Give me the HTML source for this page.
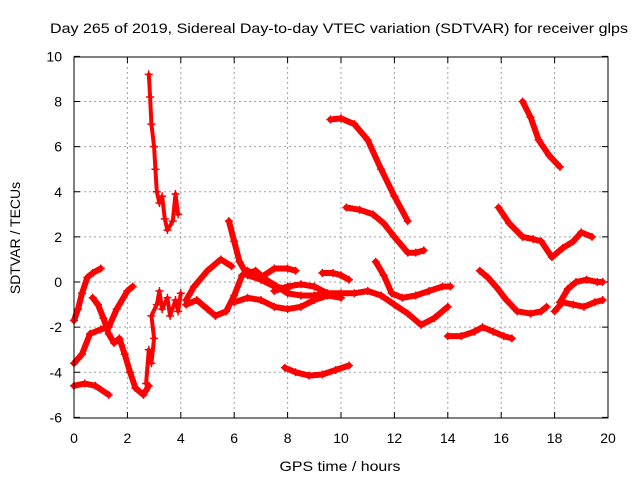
<!DOCTYPE html>
<html><head><meta charset="utf-8"><style>
body{margin:0;background:#fff}
svg{font-family:"Liberation Sans",sans-serif;display:block}
</style></head><body>
<svg id="c" width="640" height="480">
<rect width="640" height="480" fill="#fff"/>
<text x="339" y="33" font-size="14" textLength="578" lengthAdjust="spacingAndGlyphs" text-anchor="middle">Day 265 of 2019, Sidereal Day-to-day VTEC variation (SDTVAR) for receiver glps</text>
<text x="340" y="471" font-size="14" textLength="121" lengthAdjust="spacingAndGlyphs" text-anchor="middle">GPS time / hours</text>
<text transform="translate(20,238) rotate(-90)" font-size="14" text-anchor="middle">SDTVAR / TECUs</text>
<g id="grid"></g><g id="ticks"></g><g id="series"></g>
<rect x="74" y="57" width="534" height="361" fill="none" stroke="#000" stroke-width="1"/>
</svg>
<script>
const xTicks=[0,2,4,6,8,10,12,14,16,18,20];
const yTicks=[-6,-4,-2,0,2,4,6,8,10];
const tr1=[[0,-4.6],[0.4,-4.5],[0.8,-4.6],[1.3,-5.0]];
const tr2=[[0,-1.7],[0.15,-1.2],[0.3,-0.5],[0.5,0.2],[0.7,0.4],[1.0,0.6]];
const tr3=[[0,-3.6],[0.3,-3.2],[0.6,-2.3],[1.0,-2.1],[1.3,-2.0],[1.6,-1.2],[2.0,-0.4],[2.2,-0.2]];
const tr4=[[0.7,-0.7],[0.9,-1.0],[1.1,-1.6],[1.3,-2.3],[1.5,-2.7],[1.7,-2.5],[1.9,-3.2],[2.1,-4.0],[2.3,-4.7],[2.6,-5.0],[2.8,-4.6]];
const tr5=[[2.8,9.2],[2.85,8.2],[2.9,7.0],[3.0,6.0],[3.05,5.0],[3.1,4.0],[3.2,3.5],[3.3,3.8],[3.4,2.8],[3.5,2.3],[3.7,2.7],[3.8,3.9],[3.9,3.0]];
const tr6=[[2.7,-4.5],[2.8,-3.0],[2.9,-3.6],[3.0,-2.5],[2.9,-1.5],[3.1,-1.0],[3.2,-0.4],[3.3,-1.2],[3.5,-0.7],[3.6,-1.5],[3.8,-0.8],[3.9,-1.3],[4.0,-0.5]];
const tr7=[[4.2,-0.8],[4.5,-0.2],[5.0,0.5],[5.5,1.0],[5.9,0.7]];
const tr8=[[4.2,-1.0],[4.6,-0.8],[5.0,-1.2],[5.3,-1.5],[5.7,-1.3],[6.0,-0.6],[6.3,0.3],[6.8,0.5],[7.2,0.1],[7.6,-0.2],[8.0,-0.5],[8.5,-0.6],[9.0,-0.6],[9.5,-0.5],[10,-0.5],[10.5,-0.5],[11,-0.4],[11.5,-0.6],[12,-1.0],[12.5,-1.4],[13.0,-1.9],[13.5,-1.6],[14.0,-1.1]];
const tr9=[[5.8,2.7],[6.0,1.8],[6.2,0.9],[6.5,0.3],[7.0,0.1],[7.5,-0.2],[8.0,-0.3]];
const tr10=[[6.0,-0.9],[6.5,-0.7],[7.0,-0.8],[7.5,-1.1],[8.0,-1.2],[8.5,-1.1],[9.0,-0.8],[9.5,-0.6],[10.0,-0.7]];
const tr11=[[6.5,0.5],[7.0,0.2],[7.5,0.6],[8.0,0.6],[8.3,0.5]];
const tr12=[[7.5,-0.4],[8.0,-0.2],[8.5,-0.1],[9.0,-0.2],[9.5,-0.5]];
const tr13=[[7.9,-3.8],[8.3,-4.0],[8.8,-4.15],[9.3,-4.1],[9.8,-3.9],[10.3,-3.7]];
const tr14=[[9.3,0.4],[9.7,0.4],[10.0,0.3],[10.3,0.1]];
const tr15=[[9.6,7.2],[10.0,7.25],[10.5,7.0],[11.0,6.3],[11.5,5.0],[12.0,3.8],[12.5,2.7]];
const tr16=[[10.2,3.3],[10.7,3.2],[11.2,3.0],[11.6,2.6],[12.0,2.0],[12.5,1.3],[12.8,1.3],[13.1,1.4]];
const tr17=[[11.3,0.9],[11.6,0.3],[11.9,-0.5],[12.3,-0.7],[12.8,-0.6],[13.3,-0.4],[13.8,-0.2],[14.1,-0.2]];
const tr18=[[14.0,-2.4],[14.5,-2.4],[15.0,-2.2],[15.3,-2.0],[15.7,-2.2],[16.1,-2.4],[16.4,-2.5]];
const tr19=[[15.2,0.5],[15.5,0.2],[15.8,-0.2],[16.2,-0.8],[16.6,-1.3],[17.1,-1.4],[17.5,-1.3],[17.7,-1.1]];
const tr20=[[15.9,3.3],[16.3,2.6],[16.8,2.0],[17.2,1.9],[17.5,1.8],[17.9,1.1],[18.3,1.5],[18.7,1.8],[19.0,2.2],[19.4,2.0]];
const tr21=[[16.8,8.0],[17.1,7.3],[17.4,6.3],[17.8,5.6],[18.2,5.1]];
const tr22=[[18.0,-1.3],[18.3,-0.9],[18.7,-1.0],[19.1,-1.1],[19.5,-0.9],[19.8,-0.8]];
const tr23=[[18.2,-0.9],[18.5,-0.3],[18.8,0.0],[19.2,0.1],[19.6,0.0],[19.8,0.0]];
const traces=[tr1,tr2,tr3,tr4,tr5,tr6,tr7,tr8,tr9,tr10,tr11,tr12,tr13,tr14,tr15,tr16,tr17,tr18,tr19,tr20,tr21,tr22,tr23];
const sparse=[false,false,false,false,true,true,false,false,false,false,false,false,false,false,false,false,false,false,false,false,false,false,false];

const NS="http://www.w3.org/2000/svg";
function sx(h){return 74+h*(534/20);}
function sy(v){return 282-v*(361/16);}
function mk(t,a,parent){const e=document.createElementNS(NS,t);for(const k in a)e.setAttribute(k,a[k]);parent.appendChild(e);return e;}
const grid=document.getElementById('grid'),ticks=document.getElementById('ticks'),ser=document.getElementById('series');
xTicks.forEach(t=>{
  const x=sx(t);
  if(t>0&&t<20){const l=mk('line',{x1:x,y1:57,x2:x,y2:418,stroke:'#a0a0a0','stroke-dasharray':'2,3'},grid);
  
  }
  mk('line',{x1:x,y1:418,x2:x,y2:412,stroke:'#000'},ticks);
  mk('line',{x1:x,y1:57,x2:x,y2:63,stroke:'#000'},ticks);
  const tx=mk('text',{x:x,y:443,'font-size':14,'text-anchor':'middle'},ticks);tx.textContent=t;
  
  
});
yTicks.forEach(t=>{
  const y=sy(t);
  if(t>-6&&t<10){const l=mk('line',{x1:74,y1:y,x2:608,y2:y,stroke:'#a0a0a0','stroke-dasharray':'2,3'},grid);
  
  }
  mk('line',{x1:74,y1:y,x2:80,y2:y,stroke:'#000'},ticks);
  mk('line',{x1:608,y1:y,x2:602,y2:y,stroke:'#000'},ticks);
  const tx=mk('text',{x:62,y:y+5,'font-size':14,'text-anchor':'end'},ticks);tx.textContent=t;
  
  
});
traces.forEach((tr,i)=>{
  const g=mk('g',{},ser);
  
  
  const pts=tr.map(p=>sx(p[0]).toFixed(1)+','+sy(p[1]).toFixed(1)).join(' ');
  mk('polyline',{points:pts,fill:'none',stroke:'#f00','stroke-width':sparse[i]?4:6,'stroke-linejoin':'round','stroke-linecap':'round'},g);
  tr.forEach(p=>{const x=sx(p[0]),y=sy(p[1]);
    mk('path',{d:`M${x-4},${y}H${x+4}M${x},${y-4}V${y+4}`,stroke:'#f00','stroke-width':1.5},g);});
});
</script>
</body></html>
